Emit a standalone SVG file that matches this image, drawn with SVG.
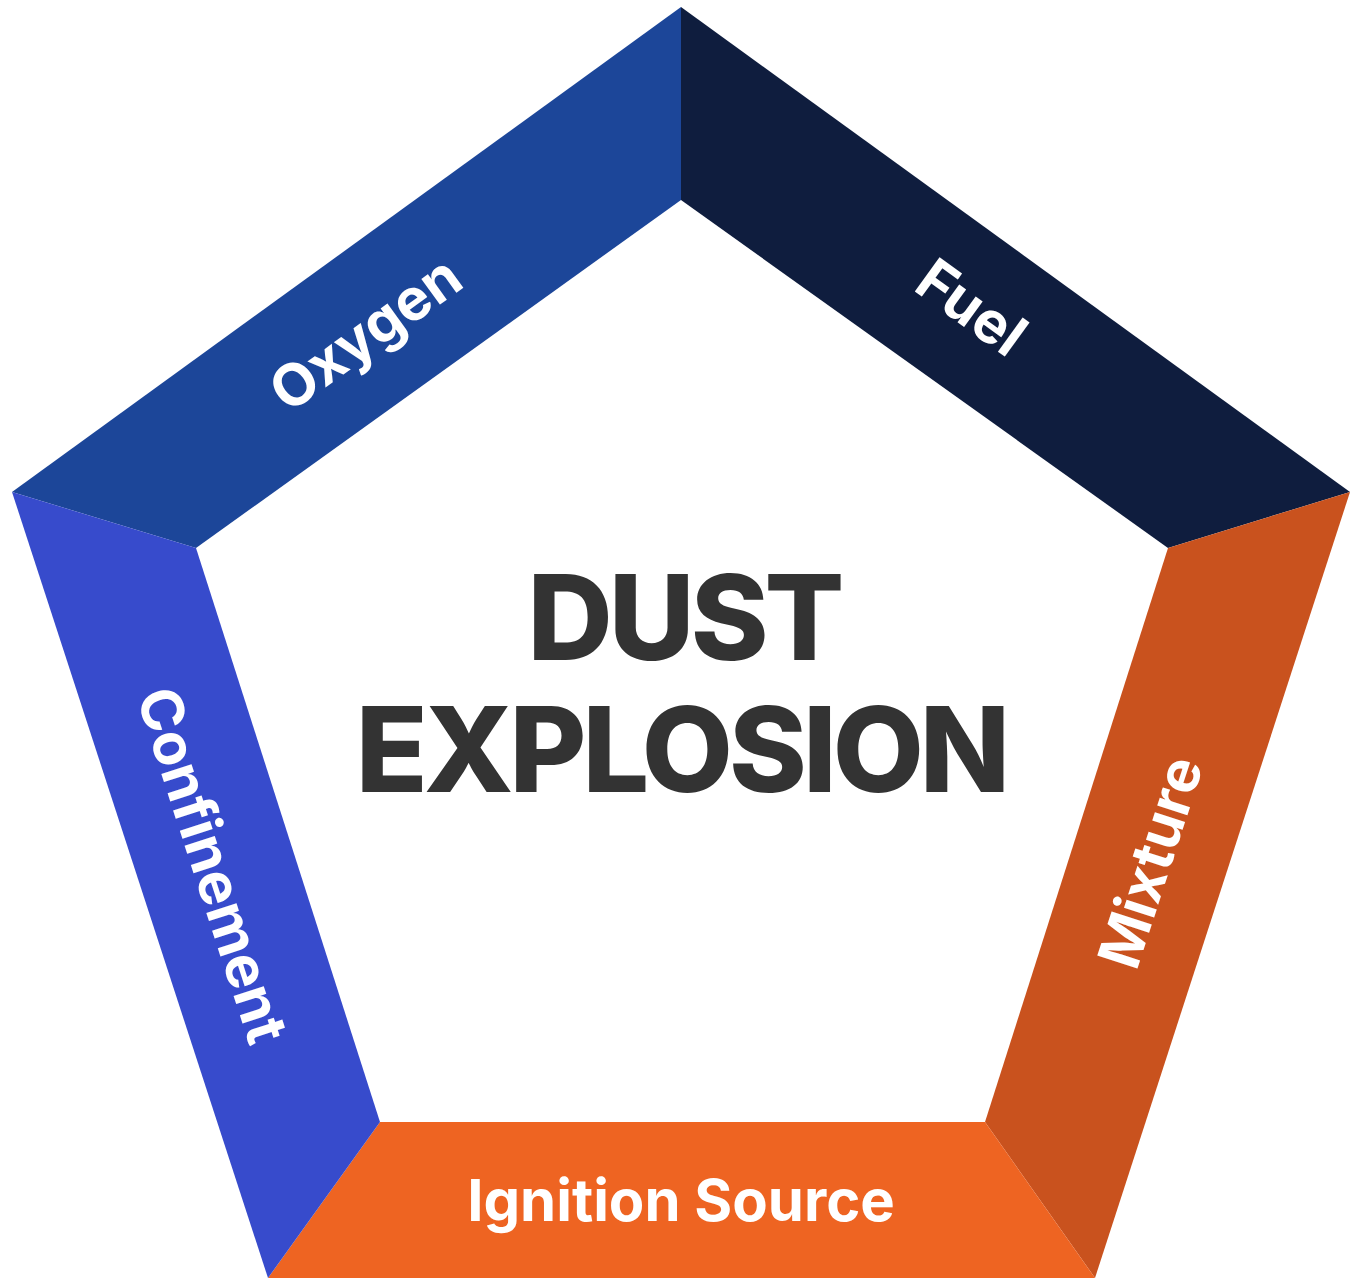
<svg xmlns="http://www.w3.org/2000/svg" width="1357" height="1287" viewBox="0 0 1357 1287">
<style>
.lbl{font-family:Inter,"Open Sans",sans-serif;font-weight:700;fill:#fff;font-size:58px;text-anchor:middle;dominant-baseline:central}
.title{font-family:Inter,"Open Sans",sans-serif;font-weight:800;fill:#333;font-size:118px;text-anchor:middle;letter-spacing:-4px}
</style>
<rect width="1357" height="1287" fill="#fff"/>
<g id="oxygen"><polygon points="12,492 681,7 681,200 196,548" fill="#1c4699"/>
<text class="lbl" transform="translate(365,333) rotate(-35.9)">Oxygen</text></g>
<g id="fuel"><polygon points="681,7 1350,492 1168,548 681,200" fill="#0f1d3e"/>
<text class="lbl" transform="translate(972,307) rotate(35.9)">Fuel</text></g>
<g id="mixture"><polygon points="1350,492 1095,1278 985,1122 1168,548" fill="#c9521e"/>
<text class="lbl" transform="translate(1150,862) rotate(-72)">Mixture</text></g>
<g id="ignition"><polygon points="1095,1278 268,1278 380,1122 985,1122" fill="#ee6422"/>
<text class="lbl" x="681" y="1200">Ignition Source</text></g>
<g id="confinement"><polygon points="268,1278 12,492 196,548 380,1122" fill="#374bcc"/>
<text class="lbl" transform="translate(213,865) rotate(72)">Confinement</text></g>
<g id="center"><text class="title" x="684" y="660">DUST</text>
<text class="title" x="681" y="792">EXPLOSION</text></g>
<g id="connectors"/>
</svg>
